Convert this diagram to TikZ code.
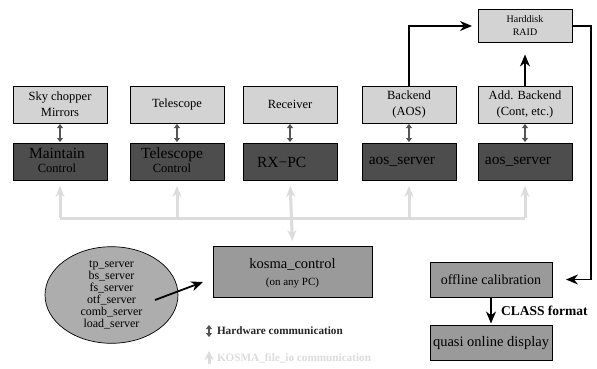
\documentclass[tikz,border=0pt]{standalone}
\usepackage{fontspec}
\setmainfont{Liberation Serif}
\usetikzlibrary{arrows.meta,shapes.geometric}
\definecolor{lightbox}{HTML}{D3D3D3}
\definecolor{darkbox}{HTML}{4D4D4D}
\definecolor{midbox}{HTML}{9A9A9A}
\definecolor{ellfill}{HTML}{ADADAD}
\definecolor{iogray}{HTML}{DCDCDC}
\definecolor{hwlink}{HTML}{555555}

\begin{document}
\begin{tikzpicture}[x=1pt,y=-1pt,
  every node/.style={inner sep=0pt, outer sep=0pt},
  devbox/.style={draw=black, line width=0.7pt, fill=lightbox, minimum width=94pt,
    minimum height=37pt, align=center, font=\fontsize{12.5}{16}\selectfont},
  ctlbox/.style={draw=black, line width=0.7pt, fill=darkbox, minimum width=94pt, minimum height=37pt},
  bigtxt/.style={font=\fontsize{15.5}{16}\selectfont},
  smalltxt/.style={font=\fontsize{12.5}{13}\selectfont},
  procbox/.style={draw=black, line width=0.7pt, fill=midbox},
  hwarrow/.style={draw=hwlink, line width=2.2pt,
    {Triangle[length=4pt,width=6pt]}-{Triangle[length=4pt,width=6pt]},
    shorten <=1pt, shorten >=1pt},
  iobus/.style={draw=iogray, line width=3pt},
  ioarrow/.style={iobus, -{Stealth[length=11pt,width=9pt]}},
  dataflow/.style={draw=black, line width=1.8pt, -{Stealth[length=12pt,width=10pt]}},
]
\fill[white] (0,0) rectangle (597,369);
\useasboundingbox (0,0) rectangle (597,369);

% hardware devices
\node[devbox] (sky)  at (60,104.5)  {Sky chopper\\Mirrors};
\node[devbox] (tel)  at (177,104.5) {Telescope};
\node[devbox] (rcv)  at (290,104.5) {Receiver};
\node[devbox] (be)   at (409,104.5) {Backend\\(AOS)};
\node[devbox] (abe)  at (525,104.5) {Add. Backend\\(Cont, etc.)};

% control computers
\node[ctlbox] (ctl1) at (60,161.5) {};
\node[ctlbox] (ctl2) at (177,161.5) {};
\node[ctlbox] (ctl3) at (290,161.5) {};
\node[ctlbox] (ctl4) at (409,161.5) {};
\node[ctlbox] (ctl5) at (525,161.5) {};
\node[bigtxt]   (ctl1a) at (57,153) {Maintain};
\node[smalltxt] (ctl1b) at (57,168) {Control};
\node[bigtxt]   (ctl2a) at (172,155) {Telescope};
\node[smalltxt] (ctl2b) at (172,168) {Control};
\node[bigtxt, anchor=west] (ctl3a) at (257,162) {RX−PC};
\node[bigtxt]   (ctl4a) at (402,162) {aos\_server};
\node[bigtxt]   (ctl5a) at (518,162) {aos\_server};

% hardware links
\foreach \d/\c in {sky/ctl1, tel/ctl2, rcv/ctl3, be/ctl4, abe/ctl5}
  \draw[hwarrow] (\d.south) -- (\c.north);

% file_io bus
\coordinate (bus1) at (60,218);
\coordinate (bus2) at (177,218);
\coordinate (bus4) at (409,218);
\coordinate (bus5) at (525,218);
\draw[iobus] (bus1) -- (bus5);
\foreach \b/\c in {bus1/ctl1, bus2/ctl2, bus4/ctl4, bus5/ctl5}
  \draw[ioarrow, shorten >=6pt] (\b) -- (\c.south);

% central control
\node[procbox, minimum width=159pt, minimum height=51pt] (kosma) at (292.5,271.5) {};
\node[font=\fontsize{14.5}{15}\selectfont] (kosmaa) at (292.5,264) {kosma\_control};
\node[font=\fontsize{11}{11}\selectfont] (kosmab) at (292.5,283) {(on any PC)};
\draw[iobus, {Stealth[length=11pt,width=9pt]}-{Stealth[length=11pt,width=9pt]},
  shorten <=6pt, shorten >=5pt] (ctl3.south) -- (kosma.north);

% servers
\node[ellipse, draw=black, line width=0.7pt, fill=ellfill, minimum width=133pt,
  minimum height=90pt, align=center, font=\fontsize{12}{12}\selectfont] (srv) at (111.5,295)
  {tp\_server\\bs\_server\\fs\_server\\otf\_server\\comb\_server\\load\_server};
\coordinate (srvtail) at (155,300);
\draw[dataflow] (srvtail) -- ([xshift=-10pt,yshift=15pt]kosma.south west);

% storage
\node[draw=black, line width=0.7pt, fill=lightbox, minimum width=94pt, minimum height=33pt,
  align=center, font=\fontsize{10}{13}\selectfont] (hd) at (525,26) {Harddisk\\RAID};
\draw[dataflow, shorten >=6pt] (be.north) |- (hd.west);
\draw[dataflow, shorten >=12pt] (abe.north) -- (hd.south);

% offline reduction
\node[procbox, minimum width=122pt, minimum height=35pt, font=\fontsize{14}{14}\selectfont]
  (off) at (491,279.5) {offline calibration};
\node[procbox, minimum width=122pt, minimum height=35pt, font=\fontsize{14.5}{15}\selectfont]
  (quasi) at (491,343) {quasi online display};
\coordinate (rc) at (591,279.5);
\draw[dataflow, shorten >=14pt] (hd.east) -| (rc) -- (off.east);
\draw[dataflow, shorten >=2pt] (off.south) -- (quasi.north)
  node[midway, anchor=west, xshift=10pt, font=\bfseries\fontsize{13.5}{14}\selectfont] (fmt) {CLASS format};

% legend
\coordinate (hwtop) at (209,324);
\coordinate (hwbot) at (209,338);
\draw[hwarrow] (hwtop) -- (hwbot);
\node[anchor=west, font=\bfseries\fontsize{11.2}{12}\selectfont, text=black!85] (hwkey) at (217,331)
  {Hardware communication};
\coordinate (iobot) at (209,364);
\coordinate (iotop) at (209,351);
\draw[iobus, -{Stealth[length=9pt,width=9pt]}] (iobot) -- (iotop);
\node[anchor=west, font=\bfseries\fontsize{11.2}{12}\selectfont, text=iogray] (iokey) at (217,358)
  {KOSMA\_file\_io communication};
\end{tikzpicture}
\end{document}
